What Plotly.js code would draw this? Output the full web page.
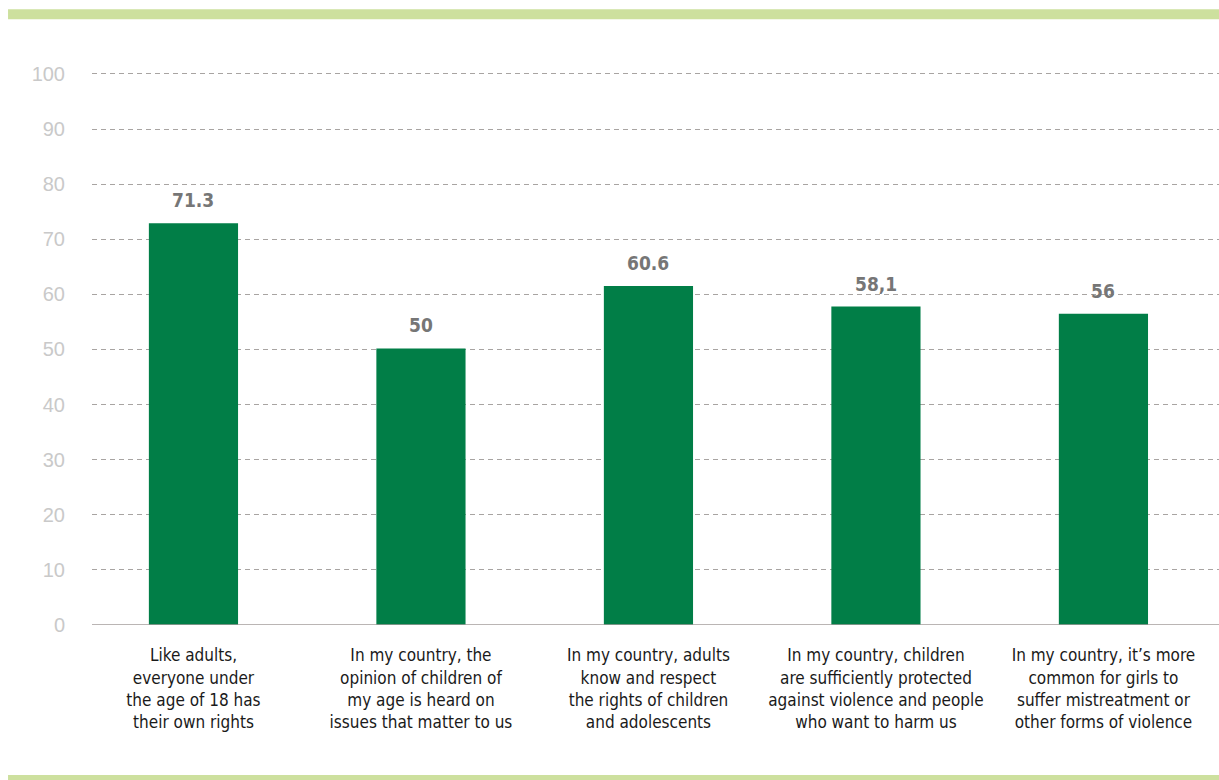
<!DOCTYPE html>
<html>
<head>
<meta charset="utf-8">
<script src="https://cdn.plot.ly/plotly-3.0.1.min.js"></script>
<style>
html,body{margin:0;padding:0;background:#fff;}
#chart{width:1219px;height:780px;}
</style>
</head>
<body>
<div id="chart"></div>
<script>
// Category labels (x axis)
const categories = [
  "Like adults,<br>everyone under<br>the age of 18 has<br>their own rights",
  "In my country, the<br>opinion of children of<br>my age is heard on<br>issues that matter to us",
  "In my country, adults<br>know and respect<br>the rights of children<br>and adolescents",
  "In my country, children<br>are sufficiently protected<br>against violence and people<br>who want to harm us",
  "In my country, it\u2019s more<br>common for girls to<br>suffer mistreatment or<br>other forms of violence"
];
// Bar heights as drawn in the picture
const values = [72.9, 50.2, 61.5, 57.8, 56.5];
// Data labels as printed above the bars
const valueLabels = ["71.3", "50", "60.6", "58,1", "56"];
// Y tick values
const yTicks = [0, 10, 20, 30, 40, 50, 60, 70, 80, 90, 100];

const positions = categories.map((c, i) => i);

const narrow = '"Liberation Sans Narrow", "Arial Narrow", "DejaVu Sans Condensed", sans-serif';

const trace = {
  type: 'bar',
  x: positions,
  y: values,
  width: 0.392,
  marker: {color: '#017e47'},
  hoverinfo: 'none'
};

const annotations = positions.map((p, i) => ({
  x: p, y: values[i], xref: 'x', yref: 'y',
  text: '<b>' + valueLabels[i] + '</b>',
  showarrow: false, yanchor: 'bottom', yshift: 10,
  font: {family: narrow, size: 19, color: '#767676'}
}));

const bandColor = '#cde09e';
const layout = {
  width: 1219, height: 780,
  margin: {l: 92, r: 0, t: 72, b: 155, pad: 0},
  paper_bgcolor: '#ffffff',
  plot_bgcolor: '#ffffff',
  showlegend: false,
  xaxis: {
    range: [-0.446, 4.508],
    tickmode: 'array',
    tickvals: positions,
    ticktext: categories,
    showgrid: false,
    zeroline: false,
    showline: false,
    ticks: 'outside', ticklen: 15, tickcolor: 'rgba(0,0,0,0)',
    tickfont: {family: narrow, size: 17, color: '#1a1a1a'},
    fixedrange: true
  },
  yaxis: {
    range: [0, 100.36],
    tickmode: 'array',
    tickvals: yTicks,
    ticktext: yTicks.map(String),
    showgrid: true,
    gridcolor: '#a8a4a2',
    griddash: '5px,4px',
    gridwidth: 1,
    zeroline: false,
    showline: false,
    ticks: 'outside', ticklen: 22, tickcolor: 'rgba(0,0,0,0)',
    tickfont: {family: 'Liberation Sans, Arial, sans-serif', size: 20, color: '#c9c9c9'},
    fixedrange: true
  },
  shapes: [
    {type: 'rect', xref: 'paper', yref: 'paper', x0: -0.0745, x1: 1.0, y0: 1.0955, y1: 1.1136,
     fillcolor: bandColor, line: {width: 0}, layer: 'below'},
    {type: 'rect', xref: 'paper', yref: 'paper', x0: -0.0745, x1: 1.0, y0: -0.2893, y1: -0.2712,
     fillcolor: bandColor, line: {width: 0}, layer: 'below'},
    {type: 'line', xref: 'paper', yref: 'y', x0: 0, x1: 1, y0: 0, y1: 0,
     line: {color: '#a39d9b', width: 1.5}, layer: 'above'}
  ],
  annotations: annotations
};

Plotly.newPlot('chart', [trace], layout, {displayModeBar: false, staticPlot: true});
</script>
</body>
</html>
